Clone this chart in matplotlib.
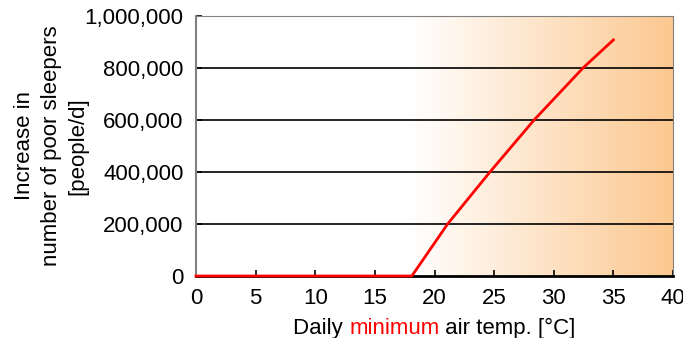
import numpy as np
import matplotlib
matplotlib.use("Agg")
import matplotlib.pyplot as plt
from matplotlib.colors import LinearSegmentedColormap
from matplotlib.offsetbox import TextArea, HPacker, AnnotationBbox

plt.rcParams['font.family'] = ['Liberation Sans', 'DejaVu Sans']

# data
temp = [0, 18.1, 21.1, 24.65, 28.35, 32.45, 35]
increase = [0, 0, 200000, 400000, 600000, 800000, 908000]
x_ticks = [0, 5, 10, 15, 20, 25, 30, 35, 40]
y_ticks = [0, 200000, 400000, 600000, 800000, 1000000]
shade_start = 18

fs = 16

fig = plt.figure(figsize=(6.83, 3.38), dpi=100)
ax = fig.add_axes([196 / 683, 62 / 338, 477 / 683, 260 / 338])

# gradient background, white -> light orange
cmap = LinearSegmentedColormap.from_list('warm', ['#ffffff', '#fcc890'])
grad = np.linspace(0, 1, 256).reshape(1, -1)
ax.imshow(grad, cmap=cmap, aspect='auto', extent=[shade_start, 40, 0, 1000000],
          zorder=0, interpolation='bicubic')

for y in y_ticks[1:-1]:
    ax.axhline(y, color='black', lw=1.2, zorder=1)

ax.plot(temp, increase, color='#ff0000', lw=2, zorder=3, clip_on=False)

ax.set_xlim(0, 40)
ax.set_ylim(0, 1000000)
ax.set_xticks(x_ticks)
ax.set_yticks(y_ticks)
ax.set_yticklabels([f'{v:,}' for v in y_ticks])
ax.tick_params(axis='both', direction='in', labelsize=fs, colors='black', length=4, width=1.2)
ax.tick_params(axis='y', pad=9)
ax.tick_params(axis='x', pad=9)

for side in ['left', 'top', 'right']:
    ax.spines[side].set_color('#808080')
ax.spines['bottom'].set_color('black')
ax.spines['bottom'].set_linewidth(2)
ax.spines['left'].set_linewidth(1.5)

ax.set_ylabel('Increase in\nnumber of poor sleepers\n[people/d]', fontsize=fs,
              linespacing=1.35, labelpad=-3)

parts = [TextArea('Daily ', textprops=dict(fontsize=fs, color='black')),
         TextArea('minimum', textprops=dict(fontsize=fs, color='#ff0000')),
         TextArea(' air temp. [°C]', textprops=dict(fontsize=fs, color='black'))]
box = HPacker(children=parts, pad=0, sep=0, align='baseline')
ab = AnnotationBbox(box, (0.5, -0.2), xycoords='axes fraction', frameon=False,
                    box_alignment=(0.5, 0.5), annotation_clip=False)
ax.add_artist(ab)

fig.savefig('out.png', dpi=100)
